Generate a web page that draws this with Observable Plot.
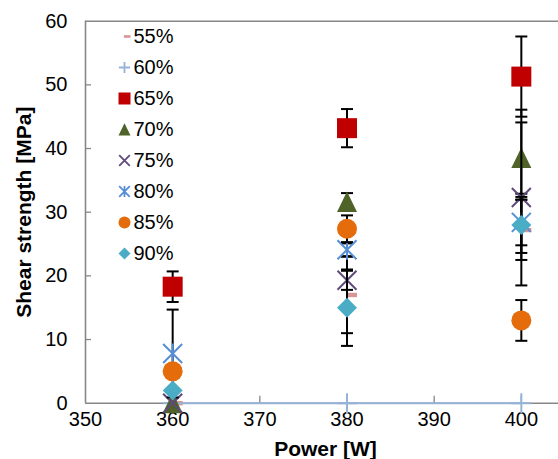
<!DOCTYPE html>
<html><head><meta charset="utf-8">
<script src="https://cdn.jsdelivr.net/npm/d3@7"></script>
<script src="https://cdn.jsdelivr.net/npm/@observablehq/plot@0.6"></script>
<style>
html,body{margin:0;padding:0;background:#fff;}
#wrap{position:relative;width:558px;height:459px;overflow:hidden;background:#fff;}
#wrap svg{position:absolute;left:0;top:0;}
</style></head><body><div id="wrap"></div>
<script>
// ---- data ----
const powers = [360, 380, 400];
const seriesNames = ["55%", "60%", "65%", "70%", "75%", "80%", "85%", "90%"];
const v55 = [0, 17.0, 27.2];   const e55 = [0, 6.0, 4.7];
const v60 = [0, 0, 0];         const e60 = [0, 0, 0];
const v65 = [18.3, 43.2, 51.3]; const e65 = [2.4, 3.0, 6.3];
const v70 = [0, 31.6, 38.5];   const e70 = [0, 1.4, 5.6];
const v75 = [0, 19.3, 32.3];   const e75 = [0, 1.5, 13.8];
const v80 = [7.8, 24.1, 28.4]; const e80 = [6.9, 1.0, 3.6];
const v85 = [5.0, 27.4, 13.0]; const e85 = [0, 2.1, 3.2];
const v90 = [2.0, 15.0, 28.0]; const e90 = [0, 6.0, 4.4];
const xTicks = [350, 360, 370, 380, 390, 400];
const yTicks = [0, 10, 20, 30, 40, 50, 60];
const xDomain = [350, 410];
const yDomain = [0, 60];

const values = [v55, v60, v65, v70, v75, v80, v85, v90];
const errors = [e55, e60, e65, e70, e75, e80, e85, e90];
const colors = ["#D99694", "#95B3D7", "#C00000", "#4F6228", "#604A7B", "#558ED5", "#E46C0A", "#4BACC6"];

// ---- symbols ----
const mk = f => ({draw(ctx, size) { const r = Math.sqrt(size / Math.PI); f(ctx, r); }});
const symDash = mk((c, r) => c.rect(-0.1 * r, -0.22 * r, 1.1 * r, 0.44 * r));
const symPlus = mk((c, r) => { c.moveTo(-r, 0); c.lineTo(r, 0); c.moveTo(0, -r); c.lineTo(0, r); });
const symSquare = mk((c, r) => c.rect(-r, -r, 2 * r, 2 * r));
const symTri = mk((c, r) => { c.moveTo(0, -1.05 * r); c.lineTo(r, r); c.lineTo(-r, r); c.closePath(); });
const symTimes = mk((c, r) => { const a = 0.95 * r; c.moveTo(-a, -a); c.lineTo(a, a); c.moveTo(a, -a); c.lineTo(-a, a); });
const symAst = mk((c, r) => { const a = 0.95 * r; c.moveTo(-a, -a); c.lineTo(a, a); c.moveTo(a, -a); c.lineTo(-a, a); c.moveTo(0, -r); c.lineTo(0, r); });
const symDiamond = mk((c, r) => { c.moveTo(0, -r); c.lineTo(r, 0); c.lineTo(0, r); c.lineTo(-r, 0); c.closePath(); });
const symCap = mk((c, r) => { c.moveTo(-r, 0); c.lineTo(r, 0); });
const symbols = [symDash, symPlus, symSquare, symTri, symTimes, symAst, "circle", symDiamond];
const filled = [true, false, true, true, false, false, true, true];

const table = seriesNames.flatMap((s, i) => powers.map((p, j) => ({series: s, i, power: p, value: values[i][j], err: errors[i][j]})));

const font = "'Liberation Sans', Arial, sans-serif";
const gray = "#878787";

const marks = [
  Plot.ruleY([yDomain[0]], {stroke: gray, strokeWidth: 1.6}),
  Plot.ruleY([yDomain[1]], {stroke: gray, strokeWidth: 1.6}),
  Plot.ruleX([xDomain[0]], {stroke: gray, strokeWidth: 1.6}),
  Plot.axisY({ticks: yTicks.slice(1, -1), tickSize: 6, dx: 6, tickFormat: () => "", label: null, stroke: gray, strokeWidth: 1.3}),
  Plot.axisX({ticks: xTicks.slice(1), tickSize: 7, dy: -7, tickFormat: () => "", label: null, stroke: gray, strokeWidth: 1.3}),
  Plot.axisY({ticks: yTicks, tickSize: 0, tickPadding: 18, label: null, fontSize: 20}),
  Plot.axisX({ticks: xTicks, tickSize: 0, tickPadding: 9, label: null, fontSize: 20}),
  Plot.text(["Shear strength [MPa]"], {text: d => d, frameAnchor: "left", textAnchor: "middle", lineAnchor: "middle", rotate: -90, dx: -61, fontWeight: "bold", fontSize: 21}),
  Plot.text(["Power [W]"], {text: d => d, frameAnchor: "bottom", textAnchor: "middle", lineAnchor: "middle", dx: 3.5, dy: 45.6, fontWeight: "bold", fontSize: 21}),
  Plot.line(table.filter(d => d.series === "60%"), {x: "power", y: "value", stroke: colors[1], strokeWidth: 2})
];

seriesNames.forEach((s, i) => {
  const rows = table.filter(d => d.i === i);
  const er = rows.filter(d => d.err > 0);
  marks.push(Plot.ruleX(er, {x: "power", y1: d => d.value - d.err, y2: d => d.value + d.err, stroke: "black", strokeWidth: 2}));
  marks.push(Plot.dot(er, {x: "power", y: d => d.value + d.err, symbol: symCap, r: 6, stroke: "black", strokeWidth: 2, fill: "none"}));
  marks.push(Plot.dot(er, {x: "power", y: d => d.value - d.err, symbol: symCap, r: 6, stroke: "black", strokeWidth: 2, fill: "none"}));
  marks.push(Plot.dot(rows, filled[i]
    ? {x: "power", y: "value", symbol: symbols[i], r: 10, fill: colors[i], stroke: "none"}
    : {x: "power", y: "value", symbol: symbols[i], r: 10, stroke: colors[i], strokeWidth: 2, fill: "none"}));
});

const chart = Plot.plot({
  width: 558, height: 459,
  marginLeft: 85, marginRight: 0, marginTop: 20.7, marginBottom: 56.3,
  x: {domain: xDomain, range: [85, 608]},
  y: {domain: yDomain},
  axis: null,
  style: {fontFamily: font, fontSize: "20px", background: "white", color: "black"},
  marks
});

// legend
const legendMarks = seriesNames.map((s, i) => Plot.dot([s], filled[i]
  ? {y: d => d, frameAnchor: "left", symbol: symbols[i], r: 6, fill: colors[i], stroke: "none"}
  : {y: d => d, frameAnchor: "left", symbol: symbols[i], r: 5.6, stroke: colors[i], strokeWidth: 1.8, fill: "none"}));
legendMarks.push(Plot.text(seriesNames, {y: d => d, text: d => d, frameAnchor: "left", dx: 9, textAnchor: "start", fontSize: 20}));
const legend = Plot.plot({
  width: 558, height: 459,
  marginLeft: 124, marginRight: 0, marginTop: 0, marginBottom: 0,
  y: {type: "point", domain: seriesNames, range: [34.5, 255], padding: 0},
  axis: null,
  style: {fontFamily: font, fontSize: "20px", background: "transparent", color: "black", pointerEvents: "none"},
  marks: legendMarks
});

const wrap = document.getElementById("wrap");
wrap.appendChild(chart);
wrap.appendChild(legend);
</script></body></html>
